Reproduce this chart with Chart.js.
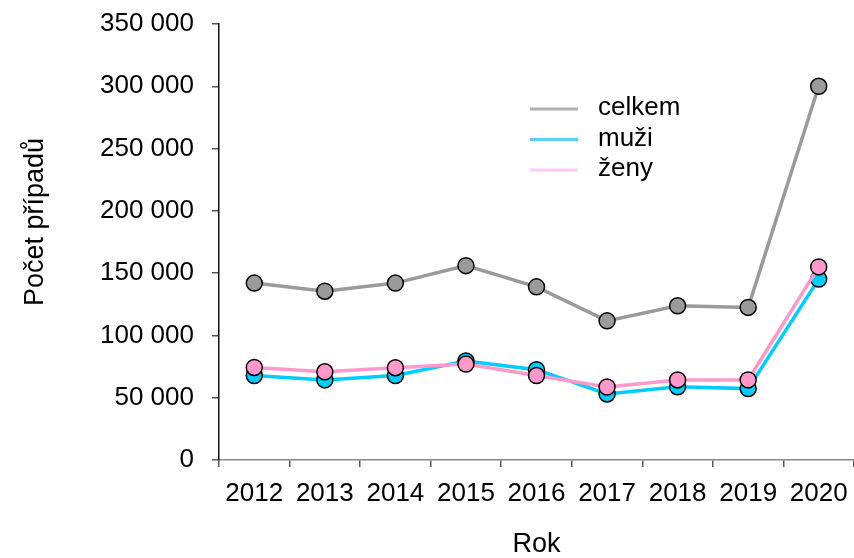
<!DOCTYPE html>
<html>
<head>
<meta charset="utf-8">
<script src="https://cdn.jsdelivr.net/npm/chart.js@4"></script>
<style>
  html, body { margin: 0; background: #fff; overflow: hidden; }
  #wrap { width: 854px; height: 558px; position: relative; }
  canvas { display: block; }
</style>
</head>
<body>
<div id="wrap"><canvas id="cases-chart"></canvas></div>
<script>
// data
const years = ["2012", "2013", "2014", "2015", "2016", "2017", "2018", "2019", "2020"];
const celkem = [142000, 135500, 142000, 156000, 139000, 111700, 123800, 122500, 300000];
const muzi = [67800, 64300, 67800, 79500, 72500, 53000, 58800, 57300, 145200];
const zeny = [74300, 70800, 74100, 77000, 67800, 58600, 64300, 64300, 155000];
const seriesNames = ["celkem", "muži", "ženy"];
const yTitle = "Počet případů";
const xTitle = "Rok";
const yMax = 350000;
const yStep = 50000;

Chart.defaults.font.family = "'Liberation Sans', Arial, sans-serif";
Chart.defaults.color = "#000";

function fmt(v) {
  return String(v).replace(/\B(?=(\d{3})+(?!\d))/g, " ");
}

// legend sits inside the plot, drawn by hand; y title drawn a bit above centre
const legendColors = ["#b3aeae", "#5fcdf5", "#ffccf0"];
const extras = {
  id: "extras",
  afterDraw: (chart) => {
    const { ctx } = chart;
    ctx.save();
    ctx.font = "26px 'Liberation Sans', Arial, sans-serif";
    ctx.textBaseline = "middle";
    ctx.fillStyle = "#000";
    for (let i = 0; i < seriesNames.length; i++) {
      const y = 109 + i * 30.5;
      ctx.strokeStyle = legendColors[i];
      ctx.lineWidth = 3;
      ctx.beginPath();
      ctx.moveTo(530, y);
      ctx.lineTo(578, y);
      ctx.stroke();
      ctx.fillText(seriesNames[i], 598, y - 1);
    }
    ctx.font = "27px 'Liberation Sans', Arial, sans-serif";
    ctx.textAlign = "center";
    ctx.translate(36, 222);
    ctx.rotate(-Math.PI / 2);
    ctx.fillText(yTitle, 0, 0);
    ctx.restore();
  },
};

function renderChart() {
  const ctx = document.getElementById("cases-chart");

  new Chart(ctx, {
    type: "line",
    data: {
      labels: years,
      datasets: [
        {
          label: seriesNames[0],
          data: celkem,
          borderColor: "#9a9a9a",
          backgroundColor: "#9a9a9a",
          order: 3,
        },
        {
          label: seriesNames[1],
          data: muzi,
          borderColor: "#00ccff",
          backgroundColor: "#00ccff",
          order: 2,
        },
        {
          label: seriesNames[2],
          data: zeny,
          borderColor: "#ff99cc",
          backgroundColor: "#ff99cc",
          order: 1,
        },
      ],
    },
    options: {
      responsive: true,
      maintainAspectRatio: false,
      animation: false,
      layout: { autoPadding: false, padding: { top: 24, right: 0, left: 0, bottom: 0 } },
      elements: {
        line: { borderWidth: 3.5, tension: 0 },
        point: {
          radius: 8,
          hoverRadius: 8,
          pointStyle: "circle",
          borderWidth: 1.5,
          borderColor: "#000",
        },
      },
      datasets: {
        line: { pointBorderColor: "#000", pointBorderWidth: 1.5 },
      },
      plugins: {
        legend: { display: false },
        tooltip: { enabled: false },
      },
      scales: {
        x: {
          offset: true,
          grid: {
            offset: true,
            drawOnChartArea: false,
            tickLength: 7,
            color: "#555",
            lineWidth: 1.5,
          },
          border: { color: "#888", width: 1.5 },
          ticks: { font: { size: 26 }, padding: 11, maxRotation: 0, autoSkip: false },
          title: {
            display: true,
            text: xTitle,
            font: { size: 27, lineHeight: 1 },
            padding: { top: 0, bottom: 0 },
          },
          afterFit: (scale) => {
            scale.height = 98;
            scale.paddingLeft = 0;
            scale.paddingRight = 0;
          },
        },
        y: {
          min: 0,
          max: yMax,
          grid: {
            drawOnChartArea: false,
            tickLength: 7,
            color: "#555",
            lineWidth: 1.5,
          },
          border: { color: "#111", width: 1.5 },
          ticks: {
            stepSize: yStep,
            font: { size: 26 },
            padding: 18,
            callback: (v) => fmt(v),
          },
          afterFit: (scale) => {
            scale.width = 219;
            scale.paddingTop = 0;
            scale.paddingBottom = 0;
          },
        },
      },
    },
    plugins: [extras],
  });
}

renderChart();
</script>
</body>
</html>
